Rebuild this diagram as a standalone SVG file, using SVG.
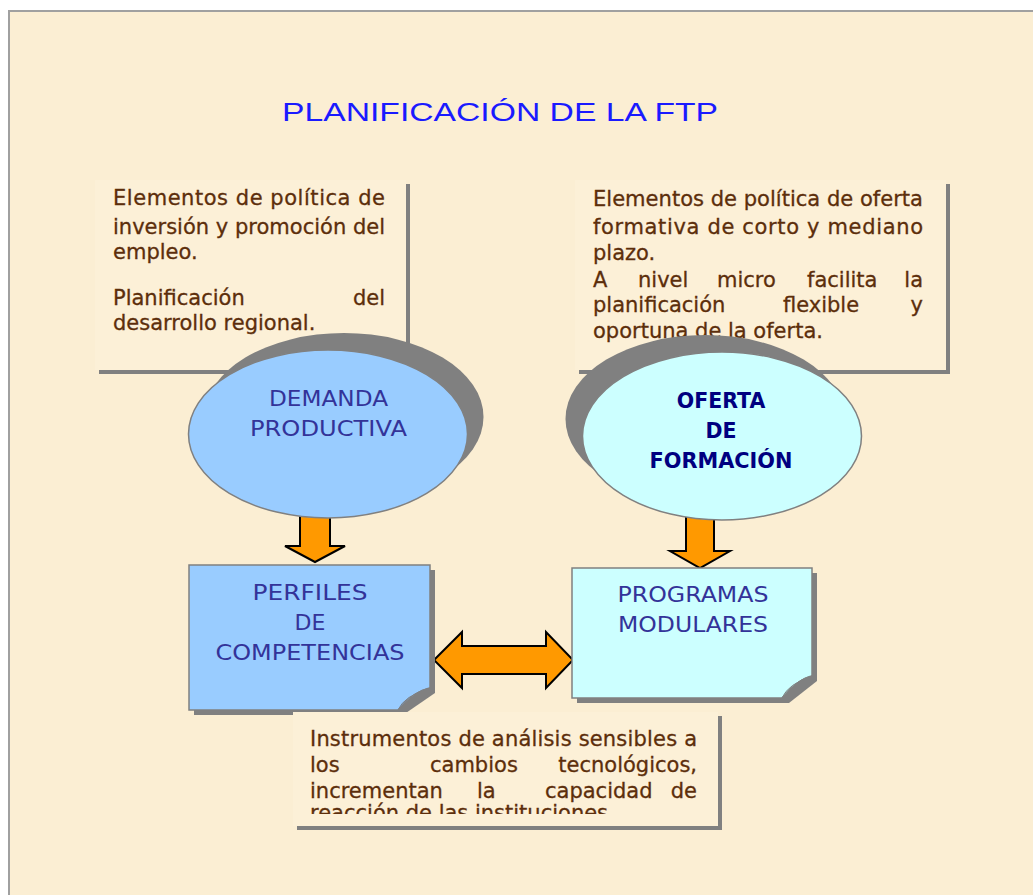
<svg xmlns="http://www.w3.org/2000/svg" width="1033" height="895" viewBox="0 0 1033 895">
<style>
.txt{font-family:"DejaVu Sans",Verdana,sans-serif;font-size:21px;fill:#5c2e0b;stroke:#5c2e0b;stroke-width:0.3}
.lbl{font-family:"DejaVu Sans",Verdana,sans-serif;font-size:22px;fill:#333399;text-anchor:middle}
.lbl2{font-family:"DejaVu Sans",Verdana,sans-serif;font-size:20.5px;fill:#000080;text-anchor:middle;font-weight:bold}
.shadow{fill:#808080}
.arrow{fill:#ff9900;stroke:#000;stroke-width:2}
.end{text-anchor:end}
</style>
<defs>
<clipPath id="clipBottom"><rect x="293" y="712" width="425" height="102"/></clipPath>
</defs>
<rect x="0" y="0" width="1033" height="895" fill="#ffffff"/>
<rect x="9" y="11" width="1030" height="890" fill="#fbeed3" stroke="#a0a0a0" stroke-width="2"/>
<text x="500" y="121" font-family="Liberation Sans,Arial,sans-serif" font-size="26" fill="#1a1aff" text-anchor="middle" textLength="436" lengthAdjust="spacingAndGlyphs">PLANIFICACIÓN DE LA FTP</text>

<g id="box-left">
<rect class="shadow" x="99" y="184" width="311" height="190"/>
<rect x="95" y="180" width="311" height="190" fill="#fcf0d7"/>
<text class="txt" x="113" y="205" textLength="272" lengthAdjust="spacing">Elementos de política de</text>
<text class="txt" x="113" y="234" textLength="272" lengthAdjust="spacingAndGlyphs">inversión y promoción del</text>
<text class="txt" x="113" y="259">empleo.</text>
<text class="txt" x="113" y="305">Planificación</text>
<text class="txt end" x="385" y="305">del</text>
<text class="txt" x="113" y="330">desarrollo regional.</text>
</g>

<g id="box-right">
<rect class="shadow" x="579" y="184" width="371" height="190"/>
<rect x="575" y="180" width="371" height="190" fill="#fcf0d7"/>
<text class="txt" x="593" y="206" textLength="330" lengthAdjust="spacingAndGlyphs">Elementos de política de oferta</text>
<text class="txt" x="593" y="234" textLength="330" lengthAdjust="spacing">formativa de corto y mediano</text>
<text class="txt" x="593" y="260">plazo.</text>
<text class="txt" x="593" y="287">A</text>
<text class="txt" x="638" y="287">nivel</text>
<text class="txt" x="717" y="287">micro</text>
<text class="txt" x="807" y="287">facilita</text>
<text class="txt end" x="923" y="287">la</text>
<text class="txt" x="593" y="312">planificación</text>
<text class="txt" x="783" y="312">flexible</text>
<text class="txt end" x="923" y="312">y</text>
<text class="txt" x="593" y="338">oportuna de la oferta.</text>
</g>

<g id="connectors">
<polygon class="arrow" points="300,505 330,505 330,546 345,546 315,562 285,546 300,546"/>
<polygon class="arrow" points="686,505 714,505 714,551 730,551 700,568 670,551 686,551"/>
<polygon class="arrow" points="434,660 462,632 462,646 546,646 546,632 573,660 546,688 546,674 462,674 462,688"/>
</g>

<g id="demanda">
<ellipse class="shadow" cx="344" cy="417" rx="139.5" ry="84"/>
<ellipse cx="328" cy="434" rx="139.5" ry="84" fill="#99ccff" stroke="#808080" stroke-width="1.5"/>
<text class="lbl" x="328.5" y="406" textLength="119" lengthAdjust="spacingAndGlyphs">DEMANDA</text>
<text class="lbl" x="328.5" y="436" textLength="157" lengthAdjust="spacingAndGlyphs">PRODUCTIVA</text>
</g>

<g id="oferta">
<ellipse class="shadow" cx="705" cy="419" rx="139.5" ry="84"/>
<ellipse cx="722" cy="436" rx="139.5" ry="84" fill="#ccffff" stroke="#808080" stroke-width="1.5"/>
<text class="lbl2" x="721" y="408">OFERTA</text>
<text class="lbl2" x="721" y="438">DE</text>
<text class="lbl2" x="721" y="468" textLength="143" lengthAdjust="spacingAndGlyphs">FORMACIÓN</text>
</g>

<g id="perfiles">
<path class="shadow" d="M194,570 H435 V693 L403,715 H194 Z"/>
<path d="M189,565 H430 V688 Q418,690 398,710 H189 Z" fill="#99ccff" stroke="#808080" stroke-width="1.5"/>
<path d="M398,710 Q404,696 430,688 Q414,690 398,710 Z" fill="#6a9ad0" stroke="#808080" stroke-width="1"/>
<text class="lbl" x="310" y="600" textLength="115" lengthAdjust="spacingAndGlyphs">PERFILES</text>
<text class="lbl" x="310" y="630">DE</text>
<text class="lbl" x="310" y="660" textLength="189" lengthAdjust="spacingAndGlyphs">COMPETENCIAS</text>
</g>

<g id="programas">
<path class="shadow" d="M577,573 H817 V681 L789,703 H577 Z"/>
<path d="M572,568 H812 V676 Q800,678 782,698 H572 Z" fill="#ccffff" stroke="#808080" stroke-width="1.5"/>
<path d="M782,698 Q788,684 812,676 Q798,678 782,698 Z" fill="#99cccc" stroke="#808080" stroke-width="1"/>
<text class="lbl" x="693" y="602" textLength="151" lengthAdjust="spacingAndGlyphs">PROGRAMAS</text>
<text class="lbl" x="693" y="632" textLength="150" lengthAdjust="spacingAndGlyphs">MODULARES</text>
</g>

<g id="box-bottom">
<rect class="shadow" x="297" y="716" width="425" height="114"/>
<rect x="293" y="712" width="425" height="114" fill="#fcf0d7"/>
<g clip-path="url(#clipBottom)">
<text class="txt" x="310" y="746" textLength="387" lengthAdjust="spacing">Instrumentos de análisis sensibles a</text>
<text class="txt" x="310" y="772">los</text>
<text class="txt" x="430" y="772">cambios</text>
<text class="txt end" x="697" y="772">tecnológicos,</text>
<text class="txt" x="310" y="798">incrementan</text>
<text class="txt" x="477" y="798">la</text>
<text class="txt" x="545" y="798">capacidad</text>
<text class="txt end" x="697" y="798">de</text>
<text class="txt" x="310" y="820">reacción de las instituciones</text>
</g>
</g>
</svg>
